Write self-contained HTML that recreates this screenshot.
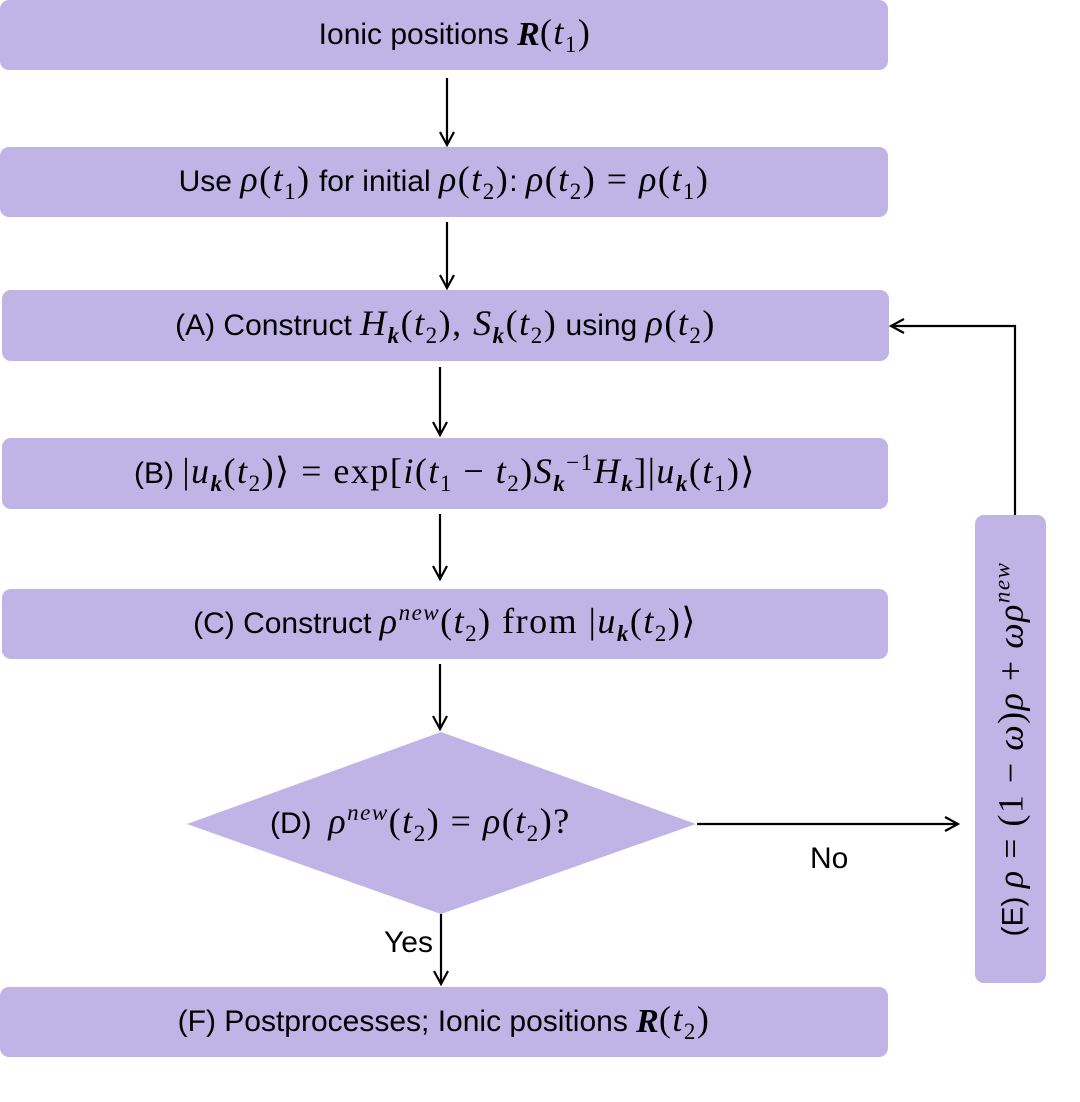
<!DOCTYPE html>
<html><head><meta charset="utf-8"><style>
body{margin:0;width:1080px;height:1102px;background:#fff;position:relative;overflow:hidden;font-family:"Liberation Sans",sans-serif;}
.b{position:absolute;background:#c0b3e6;border-radius:9px;display:flex;align-items:center;justify-content:center;font-size:30px;color:#000;white-space:nowrap;}
i,.m{font-family:"Liberation Serif",serif;}
i{font-style:italic}
.m{font-size:36px;letter-spacing:1.5px}
sub,sup{font-size:23px}
.t{position:absolute;font-size:30px;}
</style></head><body>
<svg width="1080" height="1102" style="position:absolute;left:0;top:0">
<defs><marker id="a" markerWidth="16" markerHeight="16" refX="14" refY="8" orient="auto" markerUnits="userSpaceOnUse"><path d="M1,1 L14,8 L1,15" fill="none" stroke="#000" stroke-width="2.2"/></marker></defs>
<g stroke="#000" stroke-width="2.2" fill="none" marker-end="url(#a)">
<line x1="447" y1="78" x2="447" y2="145"/>
<line x1="447" y1="222" x2="447" y2="288"/>
<line x1="440" y1="367" x2="440" y2="435"/>
<line x1="440" y1="514" x2="440" y2="579"/>
<line x1="440" y1="664" x2="440" y2="729"/>
<line x1="441" y1="914" x2="441" y2="984"/>
<line x1="697" y1="824" x2="958" y2="824"/>
<polyline points="1015,515 1015,326 891,326"/>
</g>
<polygon points="441,732 696,824 441,914 187,824" fill="#c0b3e6"/>
</svg>
<div class="b" style="left:0;top:0;width:888px;height:70px;padding-left:22px;box-sizing:border-box">Ionic positions&nbsp;<b><i style="font-size:34px">R</i></b><span class="m">(<i>t</i><sub>1</sub>)</span></div>
<div class="b" style="left:0;top:147px;width:888px;height:70px">Use&nbsp;<span class="m"><i>ρ</i>(<i>t</i><sub>1</sub>)</span>&nbsp;for initial&nbsp;<span class="m"><i>ρ</i>(<i>t</i><sub>2</sub>)</span>:&nbsp;<span class="m"><i>ρ</i>(<i>t</i><sub>2</sub>) = <i>ρ</i>(<i>t</i><sub>1</sub>)</span></div>
<div class="b" style="left:2px;top:290px;width:887px;height:71px">(A) Construct&nbsp;<span class="m"><i>H<sub><b>k</b></sub></i>(<i>t</i><sub>2</sub>), <i>S<sub><b>k</b></sub></i>(<i>t</i><sub>2</sub>)</span>&nbsp;using&nbsp;<span class="m"><i>ρ</i>(<i>t</i><sub>2</sub>)</span></div>
<div class="b" style="left:2px;top:438px;width:886px;height:71px">(B)&nbsp;<span class="m">|<i>u<sub><b>k</b></sub></i>(<i>t</i><sub>2</sub>)⟩ = exp[<i>i</i>(<i>t</i><sub>1</sub> − <i>t</i><sub>2</sub>)<i>S<sub><b>k</b></sub></i><sup>−1</sup><i>H<sub><b>k</b></sub></i>]|<i>u<sub><b>k</b></sub></i>(<i>t</i><sub>1</sub>)⟩</span></div>
<div class="b" style="left:2px;top:589px;width:886px;height:70px">(C) Construct&nbsp;<span class="m"><i>ρ<sup>new</sup></i>(<i>t</i><sub>2</sub>) from |<i>u<sub><b>k</b></sub></i>(<i>t</i><sub>2</sub>)⟩</span></div>
<div class="t" style="left:270px;top:800px">(D)&nbsp; <span class="m"><i>ρ<sup>new</sup></i>(<i>t</i><sub>2</sub>) = <i>ρ</i>(<i>t</i><sub>2</sub>)?</span></div>
<div class="t" style="left:810px;top:842px">No</div>
<div class="t" style="left:384px;top:926px">Yes</div>
<div class="b" style="left:0;top:987px;width:888px;height:70px">(F) Postprocesses; Ionic positions&nbsp;<b><i style="font-size:34px">R</i></b><span class="m">(<i>t</i><sub>2</sub>)</span></div>
<div class="b" style="left:975px;top:515px;width:71px;height:468px"><div style="transform:rotate(-90deg)">(E)&nbsp;<span class="m"><i>ρ</i> = (1 − <i>ω</i>)<i>ρ</i> + <i>ωρ<sup>new</sup></i></span></div></div>
</body></html>
